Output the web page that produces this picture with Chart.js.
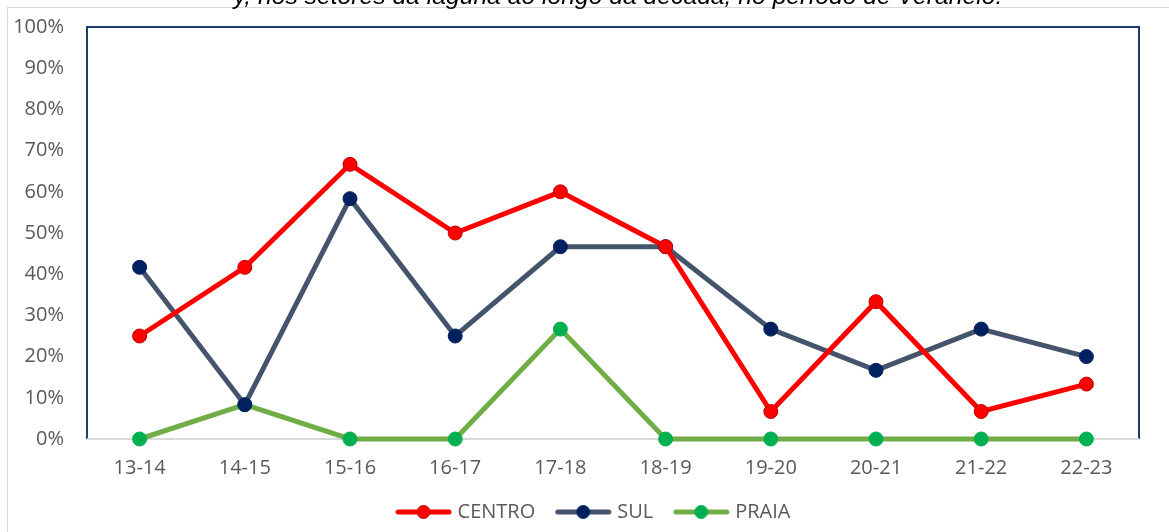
<!DOCTYPE html>
<html>
<head>
<meta charset="utf-8">
<script src="https://cdn.jsdelivr.net/npm/chart.js@4.4.1/dist/chart.umd.min.js"></script>
<style>
  html, body { margin: 0; padding: 0; background: #fff; }
  #wrap { position: relative; width: 1169px; height: 532px; }
</style>
</head>
<body>
<div id="wrap"><canvas id="c" width="1169" height="532"></canvas></div>
<script>
// Seasons (summer periods) on the category axis
const seasons = ['13-14', '14-15', '15-16', '16-17', '17-18', '18-19', '19-20', '20-21', '21-22', '22-23'];

// Share per lagoon sector, in percent
const centro = [25, 41.67, 66.67, 50, 60, 46.67, 6.67, 33.33, 6.67, 13.33];
const sul    = [41.67, 8.33, 58.33, 25, 46.67, 46.67, 26.67, 16.67, 26.67, 20];
const praia  = [0, 8.33, 0, 0, 26.67, 0, 0, 0, 0, 0];

const yTicks = [0, 10, 20, 30, 40, 50, 60, 70, 80, 90, 100];

const caption = 'y, nos setores da laguna ao longo da década, no período de Veraneio.';

const FONT = "'Open Sans', sans-serif";
const TEXT = '#595959';

// Legend swatch: a short line with a marker in the middle
function swatch(lineColor, fill, stroke) {
  const w = 57, h = 16;
  const c = document.createElement('canvas');
  c.width = w; c.height = h;
  const g = c.getContext('2d');
  g.strokeStyle = lineColor; g.lineWidth = 5; g.lineCap = 'round';
  g.beginPath(); g.moveTo(3, h / 2); g.lineTo(w - 3, h / 2); g.stroke();
  g.beginPath(); g.arc(w / 2, h / 2, 6.5, 0, Math.PI * 2);
  g.fillStyle = fill; g.fill();
  g.lineWidth = 1; g.strokeStyle = stroke; g.stroke();
  return c;
}

const series = [
  { label: 'CENTRO', data: centro, line: '#FF0000', fill: '#FF0000', edge: '#C00000' },
  { label: 'SUL',    data: sul,    line: '#44546A', fill: '#002060', edge: '#002060' },
  { label: 'PRAIA',  data: praia,  line: '#70AD47', fill: '#00B050', edge: '#00B050' }
];

const frame = {
  id: 'frame',
  afterLayout(chart) {
    // nudge the legend row to the right
    chart.legend.left += 22;
    chart.legend.right += 22;
  },
  beforeDraw(chart) {
    const ctx = chart.ctx;
    ctx.save();
    // outer chart border
    ctx.strokeStyle = '#D9D9D9';
    ctx.lineWidth = 1;
    ctx.strokeRect(7.5, 7.5, chart.width + 20, chart.height + 20);
    // caption line above the chart
    ctx.fillStyle = '#000';
    ctx.font = "italic 24.7px 'Liberation Sans', Arial, sans-serif";
    ctx.textAlign = 'center';
    ctx.textBaseline = 'alphabetic';
    ctx.fillText(caption, 618, 4);
    ctx.restore();
  },
  beforeDatasetsDraw(chart) {
    const { left, right, top, bottom } = chart.chartArea;
    const ctx = chart.ctx;
    ctx.save();
    ctx.strokeStyle = '#1F3A6E';
    ctx.lineWidth = 2;
    ctx.beginPath();
    ctx.moveTo(left, bottom);
    ctx.lineTo(left, top);
    ctx.lineTo(right, top);
    ctx.lineTo(right, bottom);
    ctx.stroke();
    ctx.strokeStyle = '#D9D9D9';
    ctx.lineWidth = 2;
    ctx.beginPath();
    ctx.moveTo(left, bottom);
    ctx.lineTo(right, bottom);
    ctx.stroke();
    ctx.restore();
  }
};

new Chart(document.getElementById('c'), {
  type: 'line',
  data: {
    labels: seasons,
    datasets: series.map(s => ({
      label: s.label,
      data: s.data,
      borderColor: s.line,
      backgroundColor: s.fill,
      borderWidth: 5,
      pointRadius: 7,
      pointHoverRadius: 7,
      pointBackgroundColor: s.fill,
      pointBorderColor: s.edge,
      pointBorderWidth: 1,
      pointStyle: 'circle',
      tension: 0,
      clip: false,
      swatch: swatch(s.line, s.fill, s.edge)
    }))
  },
  options: {
    responsive: false,
    animation: false,
    events: [],
    layout: { padding: { left: 7, right: 30, top: 27, bottom: 0 } },
    plugins: {
      tooltip: { enabled: false },
      legend: {
        position: 'bottom',
        labels: {
          usePointStyle: true,
          pointStyleWidth: 48,
          padding: 24,
          color: TEXT,
          font: { family: FONT, size: 20 },
          generateLabels(chart) {
            return chart.data.datasets.map((d, i) => ({
              text: d.label,
              pointStyle: d.swatch,
              fontColor: TEXT,
              lineWidth: 0,
              strokeStyle: 'transparent',
              fillStyle: 'transparent',
              hidden: false,
              datasetIndex: i
            }));
          }
        }
      }
    },
    scales: {
      x: {
        offset: true,
        afterFit(scale) { scale.height = 39; },
        grid: { display: false, drawTicks: false },
        border: { display: false },
        ticks: { color: TEXT, font: { family: FONT, size: 20 }, padding: 17, maxRotation: 0 }
      },
      y: {
        min: 0,
        max: 100,
        afterFit(scale) {
          scale.width = 80;
          scale.paddingTop = 0;
          scale.paddingBottom = 0;
        },
        afterBuildTicks(scale) { scale.ticks = yTicks.map(v => ({ value: v })); },
        grid: { display: false, drawTicks: false },
        border: { display: false },
        ticks: {
          color: TEXT,
          font: { family: FONT, size: 20 },
          padding: 23,
          callback: v => v + '%'
        }
      }
    }
  },
  plugins: [frame]
});
</script>
</body>
</html>
